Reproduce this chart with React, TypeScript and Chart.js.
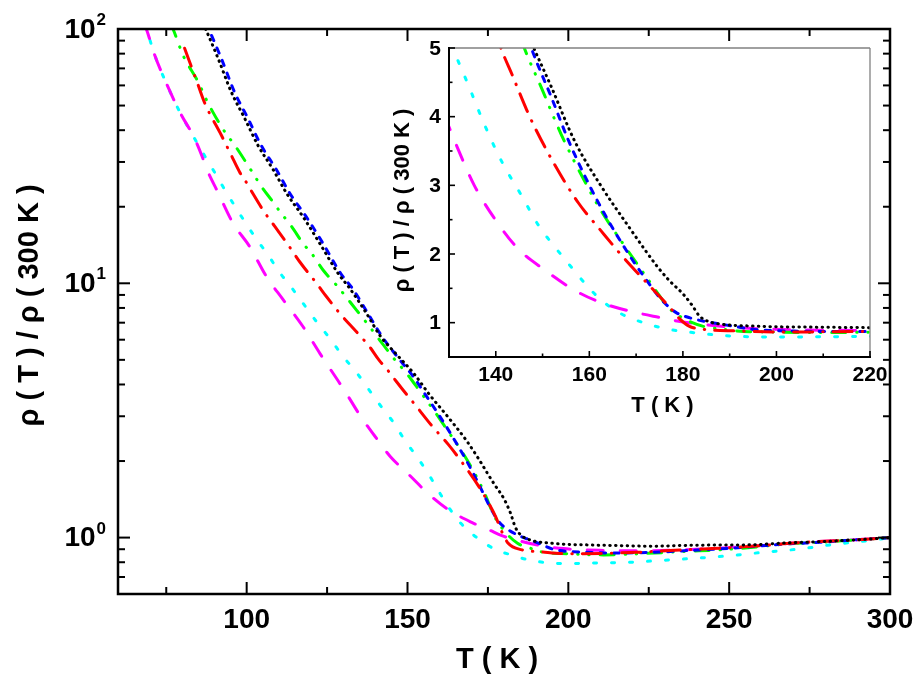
import React, { useEffect, useRef } from 'react';
import { Chart, registerables } from 'chart.js';
Chart.register(...registerables);

// ---- data (T in K, rho(T)/rho(300 K)) ----
const blackT = [86.5, 87.4, 91.1, 95.2, 99.4, 103.5, 108.3, 112.4, 117.6, 122.8, 128.5, 132.1, 137.3, 141.4, 146.6, 151.9, 156.9, 162.6, 168.4, 172, 174.5, 177, 180, 182, 183.5, 185, 188, 195, 200, 206, 216, 226, 237, 247, 257, 266, 278, 289, 300];
const blackRho = [105, 99, 76.7, 56.6, 44.5, 34.9, 27.9, 22.6, 18.2, 14.3, 10.9, 9.53, 7.6, 6.24, 5.25, 4.43, 3.64, 2.98, 2.4, 2.05, 1.82, 1.62, 1.42, 1.25, 1.1, 1.03, 0.98, 0.95, 0.94, 0.936, 0.93, 0.925, 0.932, 0.935, 0.937, 0.95, 0.964, 0.979, 1.0];

const blueT = [87.2, 88.3, 92.1, 96.2, 100.4, 104.5, 109.3, 113.4, 118.6, 123.8, 129.3, 133, 138, 142, 147.6, 151.9, 155.5, 159.8, 164.1, 168.4, 172.2, 175.5, 178.5, 181.5, 184.5, 187.5, 191.2, 195.3, 205.7, 216.1, 226.4, 236.8, 247.1, 257.5, 267.9, 278.2, 288.6, 300];
const blueRho = [105, 99, 76.7, 56.6, 44.5, 34.9, 27.9, 22.6, 18.2, 14.3, 10.9, 9.5, 7.5, 6.2, 5.0, 4.28, 3.66, 3.03, 2.48, 2.0, 1.62, 1.33, 1.15, 1.07, 1.02, 0.985, 0.944, 0.9, 0.875, 0.87, 0.875, 0.889, 0.902, 0.922, 0.944, 0.958, 0.979, 1.0];

const greenT = [76.3, 77.1, 80.2, 84.9, 88.0, 93.2, 96.3, 101, 104.7, 107.8, 110.4, 114, 117.6, 120.2, 123.8, 128, 134.2, 138.3, 141.4, 146.1, 149.7, 154, 158.3, 162.6, 166.9, 171.2, 174.1, 176.9, 179.9, 184.2, 188, 191.3, 200.5, 210.9, 221.3, 236.8, 247.1, 257.5, 268, 278, 289, 300];
const greenRho = [105, 100, 79, 62, 51.1, 39.4, 34.9, 28.3, 23.9, 21.2, 19.1, 16.7, 14.3, 13.1, 11.25, 9.8, 7.83, 6.73, 5.97, 5.0, 4.43, 3.74, 3.15, 2.62, 2.18, 1.76, 1.48, 1.22, 1.07, 0.95, 0.91, 0.88, 0.863, 0.855, 0.863, 0.883, 0.895, 0.916, 0.944, 0.958, 0.979, 1.0];

const redT = [80.7, 84.9, 87, 92.1, 95.2, 97.8, 99.5, 101.6, 105.2, 108.8, 113, 116.6, 121.8, 124.9, 129, 134.2, 138.3, 141.1, 143.5, 146.6, 148.3, 152.6, 157.6, 162.6, 166.9, 172.7, 175.6, 177.5, 179.1, 181.3, 185.6, 191.3, 200.5, 210.9, 221.3, 231.6, 242, 252.3, 262.7, 273, 288.6, 300];
const redRho = [84, 60.2, 51, 38.3, 31.9, 27.4, 25.4, 22.9, 19.3, 16.7, 14.1, 12.1, 9.97, 8.83, 7.6, 6.43, 5.61, 5.0, 4.61, 4.1, 3.85, 3.3, 2.75, 2.33, 1.98, 1.55, 1.34, 1.2, 1.07, 0.95, 0.895, 0.88, 0.863, 0.867, 0.875, 0.889, 0.902, 0.916, 0.936, 0.958, 0.979, 1.0];

const magentaT = [68, 68.8, 71.4, 75.5, 79.2, 83.8, 86, 87.5, 91.2, 95.8, 101, 106.2, 111.1, 117.6, 122.8, 129, 131.8, 135.4, 139.7, 144.7, 150.4, 156.9, 162.6, 169.8, 175.5, 179.1, 184.2, 191.3, 198.5, 210.9, 221.3, 231.6, 242, 252.3, 262.7, 273, 288.6, 300];
const magentaRho = [105, 100, 79, 59.3, 47.2, 37.1, 31.9, 28.3, 22.6, 17.2, 13.9, 10.6, 8.7, 6.73, 5.29, 4.03, 3.55, 3.0, 2.52, 2.08, 1.77, 1.47, 1.29, 1.15, 1.07, 1.02, 0.975, 0.93, 0.905, 0.89, 0.887, 0.892, 0.902, 0.916, 0.936, 0.958, 0.979, 1.0];

const cyanT = [68, 68.8, 71.4, 75.5, 79.2, 83.8, 86.5, 89.6, 92.7, 95.8, 99.5, 102.9, 106.7, 110.1, 114, 117.6, 121.8, 125.9, 130, 134.2, 137.8, 141.4, 145.6, 149.2, 152.9, 156.5, 159.6, 162.7, 166.8, 172, 177.2, 182.9, 188.1, 198.4, 208.8, 219.2, 230, 240, 250.3, 261.7, 272, 282.4, 292.8, 300];
const cyanRho = [105, 100, 79, 59.3, 47.2, 37.1, 32.4, 27.9, 23.9, 20.6, 17.4, 15.0, 12.9, 11.1, 9.6, 8.32, 7.04, 6.06, 5.15, 4.45, 3.85, 3.33, 2.84, 2.41, 2.08, 1.78, 1.53, 1.32, 1.13, 0.99, 0.90, 0.85, 0.815, 0.79, 0.795, 0.80, 0.815, 0.83, 0.849, 0.878, 0.902, 0.94, 0.972, 1.0];

// ---- ticks ----
const mainXMajor = [100, 150, 200, 250, 300];
const mainXMinor = [75, 125, 175, 225, 275];
const mainYMajor = [1, 10, 100];
const mainYExp = ['0', '1', '2'];
const mainYMinor = [0.7, 0.8, 0.9, 2, 3, 4, 5, 6, 7, 8, 9, 20, 30, 40, 50, 60, 70, 80, 90];
const insetXMajor = [140, 160, 180, 200, 220];
const insetXMinor = [150, 170, 190, 210];
const insetYMajor = [1, 2, 3, 4, 5];
const insetYMinor = [1.5, 2.5, 3.5, 4.5];

const yTitle = 'ρ ( T ) / ρ ( 300 K )';
const xTitle = 'T ( K )';

const FONT = '"Liberation Sans", Arial, Helvetica, sans-serif';

const seriesList: { T: number[]; R: number[]; color: string; dash: number[] }[] = [
  { T: blackT, R: blackRho, color: '#000000', dash: [0.5, 5.3] },
  { T: redT, R: redRho, color: '#ff0000', dash: [19, 10, 0.5, 10] },
  { T: blueT, R: blueRho, color: '#0000ff', dash: [5.5, 8] },
  { T: greenT, R: greenRho, color: '#00ff00', dash: [14, 11, 0.5, 10.5, 0.5, 11] },
  { T: magentaT, R: magentaRho, color: '#ff00ff', dash: [16, 17] },
  { T: cyanT, R: cyanRho, color: '#00ffff', dash: [3, 15] },
];

function makeDatasets() {
  return seriesList.map((s) => ({
    data: s.T.map((t, i) => ({ x: t, y: s.R[i] })),
    borderColor: s.color,
    borderWidth: 3,
    borderDash: s.dash,
    borderCapStyle: 'round' as CanvasLineCap,
    borderJoinStyle: 'round' as CanvasLineJoin,
    pointRadius: 0,
    fill: false,
    cubicInterpolationMode: 'monotone' as const,
    clip: 0,
  }));
}

function seg(ctx: CanvasRenderingContext2D, x1: number, y1: number, x2: number, y2: number) {
  ctx.beginPath();
  ctx.moveTo(x1, y1);
  ctx.lineTo(x2, y2);
  ctx.stroke();
}

const mainDeco = {
  id: 'mainDeco',
  afterDraw(chart: any) {
    const { ctx, chartArea: a } = chart;
    const xs = chart.scales.x;
    const ys = chart.scales.y;
    ctx.save();
    ctx.strokeStyle = '#000';
    ctx.lineCap = 'butt';
    ctx.lineWidth = 2;
    for (const v of mainXMajor) {
      const p = xs.getPixelForValue(v);
      seg(ctx, p, a.bottom, p, a.bottom - 12);
      seg(ctx, p, a.top, p, a.top + 12);
    }
    for (const v of mainXMinor) {
      const p = xs.getPixelForValue(v);
      seg(ctx, p, a.bottom, p, a.bottom - 7);
      seg(ctx, p, a.top, p, a.top + 7);
    }
    for (const v of mainYMajor) {
      const p = ys.getPixelForValue(v);
      seg(ctx, a.left, p, a.left + 12, p);
      seg(ctx, a.right, p, a.right - 12, p);
    }
    for (const v of mainYMinor) {
      const p = ys.getPixelForValue(v);
      seg(ctx, a.left, p, a.left + 7, p);
      seg(ctx, a.right, p, a.right - 7, p);
    }
    ctx.lineWidth = 2.5;
    ctx.strokeRect(a.left, a.top, a.right - a.left, a.bottom - a.top);

    ctx.fillStyle = '#000';
    ctx.font = `bold 28px ${FONT}`;
    ctx.textAlign = 'center';
    ctx.textBaseline = 'middle';
    for (const v of mainXMajor) ctx.fillText(String(v), xs.getPixelForValue(v), a.bottom + 26);

    mainYMajor.forEach((v, i) => {
      const p = ys.getPixelForValue(v);
      ctx.font = `bold 17px ${FONT}`;
      const ew = ctx.measureText(mainYExp[i]).width;
      const right = a.left - 12;
      ctx.textAlign = 'right';
      ctx.textBaseline = 'alphabetic';
      ctx.fillText(mainYExp[i], right, p - 4);
      ctx.font = `bold 28px ${FONT}`;
      ctx.textBaseline = 'middle';
      ctx.fillText('10', right - ew - 1, p + 1);
    });

    ctx.textAlign = 'center';
    ctx.textBaseline = 'middle';
    ctx.font = `bold 29px ${FONT}`;
    ctx.fillText(xTitle, (a.left + a.right) / 2 - 7, a.bottom + 66);
    ctx.save();
    ctx.translate(30, (a.top + a.bottom) / 2 - 6);
    ctx.rotate(-Math.PI / 2);
    ctx.fillText(yTitle, 0, 0);
    ctx.restore();
    ctx.restore();
  },
};

const insetDeco = {
  id: 'insetDeco',
  beforeDatasetsDraw(chart: any) {
    const { ctx, chartArea: a } = chart;
    ctx.save();
    ctx.fillStyle = '#ffffff';
    ctx.fillRect(a.left, a.top, a.right - a.left, a.bottom - a.top);
    ctx.restore();
  },
  afterDraw(chart: any) {
    const { ctx, chartArea: a } = chart;
    const xs = chart.scales.x;
    const ys = chart.scales.y;
    ctx.save();
    ctx.lineCap = 'butt';
    ctx.strokeStyle = '#808080';
    ctx.lineWidth = 1.3;
    seg(ctx, a.left, a.top, a.right, a.top);
    seg(ctx, a.right, a.top, a.right, a.bottom);
    ctx.strokeStyle = '#000';
    ctx.lineWidth = 1.6;
    for (const v of insetXMajor) {
      const p = xs.getPixelForValue(v);
      seg(ctx, p, a.bottom, p, a.bottom - 6);
    }
    for (const v of insetXMinor) {
      const p = xs.getPixelForValue(v);
      seg(ctx, p, a.bottom, p, a.bottom - 3.5);
    }
    for (const v of insetYMajor) {
      const p = ys.getPixelForValue(v);
      seg(ctx, a.left, p, a.left + 6, p);
    }
    for (const v of insetYMinor) {
      const p = ys.getPixelForValue(v);
      seg(ctx, a.left, p, a.left + 3.5, p);
    }
    ctx.lineWidth = 2;
    seg(ctx, a.left, a.top - 1, a.left, a.bottom + 1);
    seg(ctx, a.left - 1, a.bottom, a.right + 1, a.bottom);

    ctx.fillStyle = '#000';
    ctx.font = `bold 21px ${FONT}`;
    ctx.textAlign = 'center';
    ctx.textBaseline = 'middle';
    for (const v of insetXMajor) ctx.fillText(String(v), xs.getPixelForValue(v), a.bottom + 18);
    ctx.textAlign = 'right';
    for (const v of insetYMajor) ctx.fillText(String(v), a.left - 8, ys.getPixelForValue(v) + 1);

    ctx.textAlign = 'center';
    ctx.font = `bold 22px ${FONT}`;
    ctx.fillText(xTitle, (a.left + a.right) / 2 + 3, a.bottom + 49);
    ctx.save();
    ctx.translate(a.left - 46, (a.top + a.bottom) / 2 - 2);
    ctx.rotate(-Math.PI / 2);
    ctx.fillText(yTitle, 0, 0);
    ctx.restore();
    ctx.restore();
  },
};

export default function App() {
  const mainRef = useRef<HTMLCanvasElement>(null);
  const insetRef = useRef<HTMLCanvasElement>(null);

  useEffect(() => {
    const common = {
      responsive: false,
      animation: false as const,
      devicePixelRatio: 1,
      events: [] as any[],
      plugins: { legend: { display: false }, tooltip: { enabled: false }, title: { display: false } },
    };
    const main = new Chart(mainRef.current!, {
      type: 'line',
      data: { datasets: makeDatasets() as any },
      options: {
        ...common,
        layout: { padding: { left: 118, top: 29, right: 34, bottom: 95 } },
        scales: {
          x: { type: 'linear', min: 60, max: 300, display: false },
          y: { type: 'logarithmic', min: 0.6, max: 100, display: false },
        },
      } as any,
      plugins: [mainDeco],
    });
    const inset = new Chart(insetRef.current!, {
      type: 'line',
      data: { datasets: makeDatasets() as any },
      options: {
        ...common,
        layout: { padding: { left: 69, top: 13, right: 20, bottom: 68 } },
        scales: {
          x: { type: 'linear', min: 130, max: 220, display: false },
          y: { type: 'linear', min: 0.5, max: 5, display: false },
        },
      } as any,
      plugins: [insetDeco],
    });
    return () => {
      main.destroy();
      inset.destroy();
    };
  }, []);

  return (
    <div style={{ position: 'absolute', left: 0, top: 0, width: 924, height: 689, background: '#ffffff', overflow: 'hidden' }}>
      <canvas ref={mainRef} width={924} height={689} style={{ position: 'absolute', left: 0, top: 0 }} />
      <canvas ref={insetRef} width={510} height={390} style={{ position: 'absolute', left: 380, top: 35 }} />
    </div>
  );
}
